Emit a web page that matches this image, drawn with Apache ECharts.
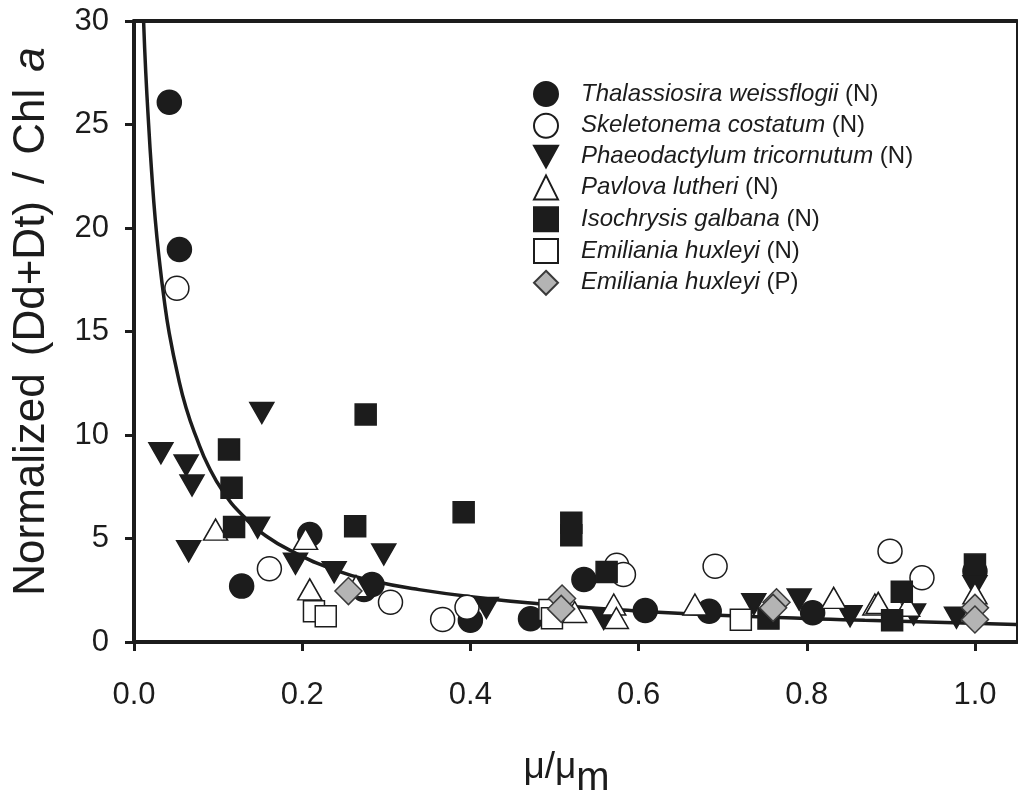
<!DOCTYPE html>
<html>
<head>
<meta charset="utf-8">
<script src="https://cdn.jsdelivr.net/npm/echarts@6/dist/echarts.min.js"></script>
<style>
html,body{margin:0;padding:0;background:#fff;}
#chart{width:1018px;height:791px;}
</style>
</head>
<body>
<div id="chart"></div>
<script>
// ---- data ----
const xTicks = [0, 0.2, 0.4, 0.6, 0.8, 1.0];
const yTicks = [0, 5, 10, 15, 20, 25, 30];

const seriesNames = [
  'Thalassiosira weissflogii',
  'Skeletonema costatum',
  'Phaeodactylum tricornutum',
  'Pavlova lutheri',
  'Isochrysis galbana',
  'Emiliania huxleyi N',
  'Emiliania huxleyi P'
];

const thalassiosira = [[0.042,26.08],[0.054,18.96],[0.128,2.70],[0.209,5.19],[0.2735,2.54],[0.283,2.78],[0.400,1.05],[0.4715,1.12],[0.535,3.02],[0.608,1.52],[0.684,1.49],[0.807,1.41],[1.0,3.42]];
const skeletonema = [[0.051,17.09],[0.161,3.54],[0.305,1.92],[0.367,1.09],[0.396,1.68],[0.574,3.71],[0.582,3.26],[0.691,3.66],[0.899,4.39],[0.937,3.10]];
const phaeodactylum = [[0.032,9.12],[0.062,8.53],[0.069,7.56],[0.065,4.39],[0.152,11.07],[0.147,5.52],[0.192,3.78],[0.238,3.37],[0.297,4.23],[0.419,1.65],[0.5585,1.12],[0.737,1.82],[0.791,2.05],[0.8515,1.25],[0.927,1.33],[0.978,1.17],[1.0,2.70]];
const pavlova = [[0.097,5.43],[0.204,4.98],[0.209,2.54],[0.264,2.70],[0.524,1.45],[0.5705,1.81],[0.5736,1.16],[0.667,1.81],[0.832,2.13],[0.881,1.81],[0.885,1.89],[0.920,1.75],[1.0,2.35]];
const isochrysis = [[0.113,9.30],[0.116,7.45],[0.119,5.55],[0.263,5.59],[0.2755,10.99],[0.392,6.27],[0.520,5.76],[0.520,5.16],[0.562,3.38],[0.7545,1.13],[0.9015,1.05],[0.913,2.43],[1.0,3.74]];
const emilianiaN = [[0.214,1.49],[0.228,1.25],[0.494,1.55],[0.497,1.15],[0.7216,1.07]];
const emilianiaP = [[0.255,2.46],[0.509,2.10],[0.508,1.60],[0.764,1.92],[0.760,1.65],[1.0,1.65],[1.0,1.09]];

// fitted curve
const curveX = [0.0114,0.014,0.0174,0.021,0.0253,0.030,0.036,0.042,0.052,0.062,0.074,0.089,0.107,0.129,0.157,0.192,0.24,0.283,0.339,0.418,0.481,0.576,0.695,0.869,1.049];
const curveY = [30,27.5,25,22.7,20.4,18.5,16.5,14.9,12.9,11.3,9.9,8.45,7.2,6.12,5.12,4.3,3.46,2.96,2.53,2.1,1.85,1.56,1.29,1.05,0.85];

// ---- chart ----
const FONT = "'Liberation Sans', Arial, Helvetica, sans-serif";
const INK = '#1c1c1c';
const downTri = 'path://M0,0 L20,0 L10,18 Z';

const chart = echarts.init(document.getElementById('chart'), null, {renderer: 'canvas'});

const curve = curveX.map((x, i) => [x, curveY[i]]);

function scatter(name, data, symbol, size, fill, border) {
  return {
    name: name,
    type: 'scatter',
    data: data,
    symbol: symbol,
    symbolSize: size,
    itemStyle: {color: fill, borderColor: border, borderWidth: 1.5, opacity: 1},
    emphasis: {disabled: true},
    z: 3
  };
}

const legendLabels = {
  'Thalassiosira weissflogii': '{s|}{i|Thalassiosira weissflogii} (N)',
  'Skeletonema costatum': '{s|}{i|Skeletonema costatum} (N)',
  'Phaeodactylum tricornutum': '{s|}{i|Phaeodactylum tricornutum} (N)',
  'Pavlova lutheri': '{s|}{i|Pavlova lutheri} (N)',
  'Isochrysis galbana': '{s|}{i|Isochrysis galbana} (N)',
  'Emiliania huxleyi N': '{s|}{i|Emiliania huxleyi} (N)',
  'Emiliania huxleyi P': '{s|}{i|Emiliania huxleyi} (P)'
};

const option = {
  backgroundColor: '#ffffff',
  animation: false,
  textStyle: {fontFamily: FONT},
  grid: {left: 134, top: 21, right: 1, bottom: 149, containLabel: false, outerBoundsMode: 'none'},
  legend: {
    show: true,
    orient: 'vertical',
    left: 528,
    top: 76,
    itemWidth: 24,
    itemHeight: 24,
    itemGap: 5.8,
    data: seriesNames,
    selectedMode: false,
    formatter: function (n) { return legendLabels[n]; },
    textStyle: {
      fontFamily: FONT, fontSize: 24, color: INK,
      rich: {
        s: {width: 18},
        i: {fontFamily: FONT, fontSize: 24, fontStyle: 'italic', color: INK}
      }
    }
  },
  xAxis: [{
    type: 'value',
    min: 0, max: 1.05, interval: 0.2,
    position: 'bottom',
    splitLine: {show: false},
    axisLine: {show: true, onZero: false, lineStyle: {color: INK, width: 4}},
    axisTick: {show: true, inside: false, length: 9, lineStyle: {color: INK, width: 3}},
    axisLabel: {
      fontFamily: FONT, fontSize: 31, color: INK, margin: 38, showMaxLabel: false,
      formatter: function (v) {
        for (const t of xTicks) { if (Math.abs(v - t) < 1e-6) return t.toFixed(1); }
        return '';
      }
    },
    name: '{a|μ/μ}{b|m}',
    nameLocation: 'middle',
    nameGap: 107,
    nameTextStyle: {
      padding: [0, 18, 0, 0],
      rich: {
        a: {fontFamily: FONT, fontSize: 37, color: INK, lineHeight: 40, verticalAlign: 'top'},
        b: {fontFamily: FONT, fontSize: 40, color: INK, lineHeight: 50, verticalAlign: 'bottom'}
      }
    }
  }, {
    type: 'value',
    min: 0, max: 1.05,
    position: 'top',
    splitLine: {show: false},
    axisLine: {show: true, onZero: false, lineStyle: {color: INK, width: 4}},
    axisTick: {show: false},
    axisLabel: {show: false}
  }],
  yAxis: [{
    type: 'value',
    min: 0, max: 30, interval: 5,
    position: 'left',
    splitLine: {show: false},
    axisLine: {show: true, onZero: false, lineStyle: {color: INK, width: 4}},
    axisTick: {show: true, inside: false, length: 9, lineStyle: {color: INK, width: 3}},
    axisLabel: {
      fontFamily: FONT, fontSize: 31, color: INK, margin: 25,
      formatter: function (v) { return yTicks.indexOf(v) >= 0 ? String(v) : ''; }
    },
    name: '{n|Normalized}{sp| }{n|(Dd+Dt)}{sp| }{n|/}{sp| }{n|Chl}{sp| }{i|a}',
    nameLocation: 'middle',
    nameGap: 80,
    nameRotate: 90,
    nameTextStyle: {
      padding: [0, 0, 0, 20],
      rich: {
        n: {fontFamily: FONT, fontSize: 44, color: INK},
        sp: {fontFamily: FONT, fontSize: 44, color: INK, width: 17},
        i: {fontFamily: FONT, fontSize: 44, color: INK, fontStyle: 'italic'}
      }
    }
  }, {
    type: 'value',
    min: 0, max: 30,
    position: 'right',
    splitLine: {show: false},
    axisLine: {show: true, onZero: false, lineStyle: {color: INK, width: 2}},
    axisTick: {show: false},
    axisLabel: {show: false}
  }],
  series: [
    {
      name: 'curve',
      type: 'line',
      data: curve,
      showSymbol: false,
      symbol: 'none',
      smooth: 0.5,
      clip: true,
      lineStyle: {color: INK, width: 3.5},
      emphasis: {disabled: true},
      z: 2
    },
    scatter(seriesNames[0], thalassiosira, 'circle', 24, INK, INK),
    scatter(seriesNames[1], skeletonema, 'circle', 24, '#ffffff', INK),
    scatter(seriesNames[2], phaeodactylum, downTri, [24, 21], INK, INK),
    scatter(seriesNames[3], pavlova, 'triangle', [24, 21], '#ffffff', INK),
    scatter(seriesNames[4], isochrysis, 'rect', 21, INK, INK),
    scatter(seriesNames[5], emilianiaN, 'rect', 21, '#ffffff', INK),
    scatter(seriesNames[6], emilianiaP, 'diamond', 27, '#b4b4b4', '#3a3a3a')
  ]
};

chart.setOption(option);
</script>
</body>
</html>
